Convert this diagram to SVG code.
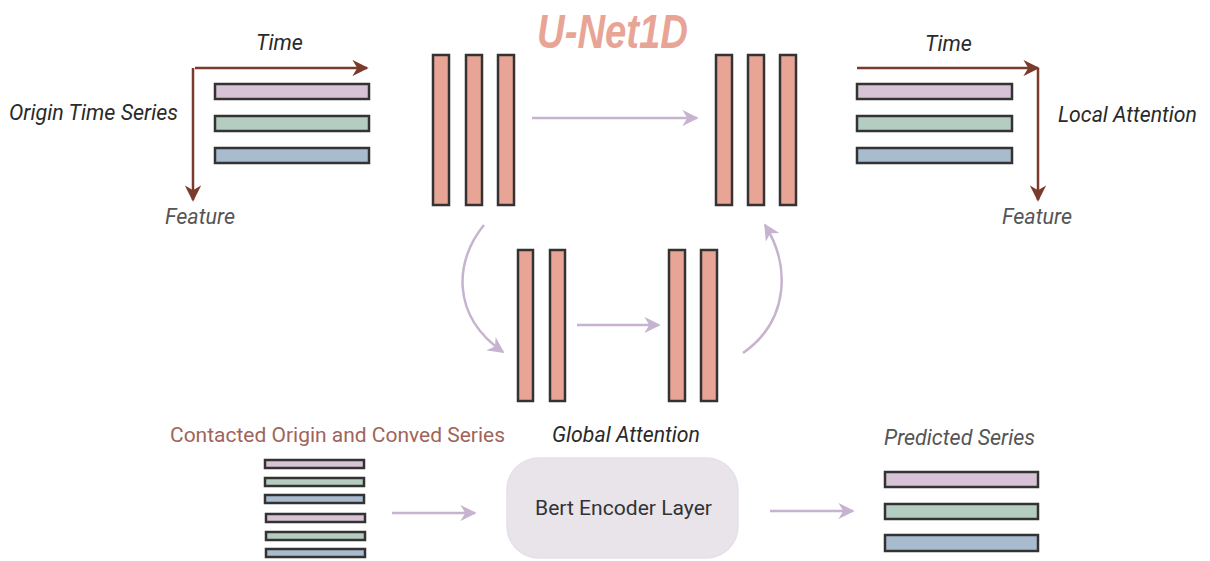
<svg xmlns="http://www.w3.org/2000/svg" width="1210" height="561" viewBox="0 0 1210 561">
<defs>
<marker id="brownHead" viewBox="0 0 10 10" refX="9" refY="5" markerWidth="6.5" markerHeight="6.5" markerUnits="strokeWidth" orient="auto">
<path d="M0,0 L10,5 L0,10 L3,5 z" fill="#7a3a2c"/>
</marker>
<marker id="lavHead" viewBox="0 0 10 10" refX="9" refY="5" markerWidth="6.5" markerHeight="6.5" markerUnits="strokeWidth" orient="auto">
<path d="M0,0 L10,5 L0,10 L3,5 z" fill="#c6b3cf"/>
</marker>
</defs>
<style>
.txt{font-family:Roboto,"Liberation Sans",sans-serif;font-size:21px;fill:#2a2a2a}
.it{font-style:italic;font-size:21.5px}
.gray{fill:#555}
.brown{stroke:#7a3a2c;stroke-width:2.5;fill:none;marker-end:url(#brownHead)}
.lav{stroke:#c6b3cf;stroke-width:2.5;fill:none;marker-end:url(#lavHead)}
.bar{stroke:#333;stroke-width:2.5}
.pink{fill:#d7c3d5}.green{fill:#b5cdc0}.blue{fill:#a9bccf}
.salmon{fill:#e8a596;stroke:#333;stroke-width:2.5}
</style>
<rect width="1210" height="561" fill="#fff"/>

<g id="title">
<text x="537" y="48" font-family="'Liberation Sans',Arial,sans-serif" font-size="49" font-weight="bold" font-style="italic" fill="#e8a596" textLength="151" lengthAdjust="spacingAndGlyphs">U-Net1D</text>
</g>

<g id="origin-series">
<rect class="bar pink" x="215" y="84" width="154" height="15"/>
<rect class="bar green" x="215" y="116" width="154" height="15"/>
<rect class="bar blue" x="215" y="148" width="154" height="15"/>
<text class="txt it" x="9" y="120" textLength="169" lengthAdjust="spacingAndGlyphs">Origin Time Series</text>
<text class="txt it" x="256" y="50">Time</text>
<text class="txt it gray" x="165" y="224">Feature</text>
</g>

<g id="local-attention">
<rect class="bar pink" x="857" y="84" width="155" height="15"/>
<rect class="bar green" x="857" y="116" width="155" height="15"/>
<rect class="bar blue" x="857" y="148" width="155" height="15"/>
<text class="txt it" x="1058" y="122" textLength="139" lengthAdjust="spacingAndGlyphs">Local Attention</text>
<text class="txt it" x="925" y="51">Time</text>
<text class="txt it gray" x="1002" y="224">Feature</text>
</g>

<g id="encoder-left">
<rect class="salmon" x="433" y="55" width="16" height="150"/>
<rect class="salmon" x="466" y="55" width="16" height="150"/>
<rect class="salmon" x="498" y="55" width="16" height="150"/>
</g>
<g id="decoder-right">
<rect class="salmon" x="716" y="55" width="16" height="150"/>
<rect class="salmon" x="748" y="55" width="16" height="150"/>
<rect class="salmon" x="780" y="55" width="16" height="150"/>
</g>
<g id="bottleneck-left">
<rect class="salmon" x="518" y="250" width="15" height="151"/>
<rect class="salmon" x="550" y="250" width="15" height="151"/>
</g>
<g id="bottleneck-right">
<rect class="salmon" x="669" y="250" width="16" height="151"/>
<rect class="salmon" x="701" y="250" width="16" height="151"/>
</g>

<g id="concat-series">
<text class="txt" x="170" y="442" style="fill:#a0645a" textLength="335" lengthAdjust="spacingAndGlyphs">Contacted Origin and Conved Series</text>
<rect class="bar pink" x="265" y="460" width="99" height="8"/>
<rect class="bar green" x="265" y="478" width="99" height="8"/>
<rect class="bar blue" x="265" y="495" width="99" height="8"/>
<rect class="bar pink" x="266" y="514" width="99" height="8"/>
<rect class="bar green" x="266" y="532" width="99" height="8"/>
<rect class="bar blue" x="266" y="549" width="99" height="8"/>
</g>

<g id="bert">
<text class="txt it" x="552" y="442" textLength="148" lengthAdjust="spacingAndGlyphs">Global Attention</text>
<rect x="507" y="458" width="231" height="100" rx="32" fill="#e8e4ea" stroke="#e3e1e8" stroke-width="1.5"/>
<text class="txt" x="535" y="515" style="fill:#333" textLength="177" lengthAdjust="spacingAndGlyphs">Bert Encoder Layer</text>
</g>

<g id="predicted">
<text class="txt it gray" x="884" y="445" textLength="151" lengthAdjust="spacingAndGlyphs">Predicted Series</text>
<rect class="bar pink" x="885" y="472" width="153" height="15"/>
<rect class="bar green" x="885" y="504" width="153" height="15"/>
<rect class="bar blue" x="885" y="535" width="153" height="16"/>
</g>

<g id="connectors">
<line class="brown" x1="195" y1="68" x2="367" y2="68"/>
<line class="brown" x1="193" y1="68" x2="193" y2="200"/>
<line class="brown" x1="857" y1="68" x2="1038" y2="68"/>
<line class="brown" x1="1038" y1="68" x2="1038" y2="200"/>
<line class="lav" x1="532" y1="118" x2="697" y2="118"/>
<path class="lav" d="M484,225 C455,260 450,315 503,352"/>
<line class="lav" x1="577" y1="325" x2="659" y2="325"/>
<path class="lav" d="M743,353 C790,320 790,265 765,225"/>
<line class="lav" x1="392" y1="513" x2="475" y2="513"/>
<line class="lav" x1="770" y1="511" x2="853" y2="511"/>
</g>
</svg>
